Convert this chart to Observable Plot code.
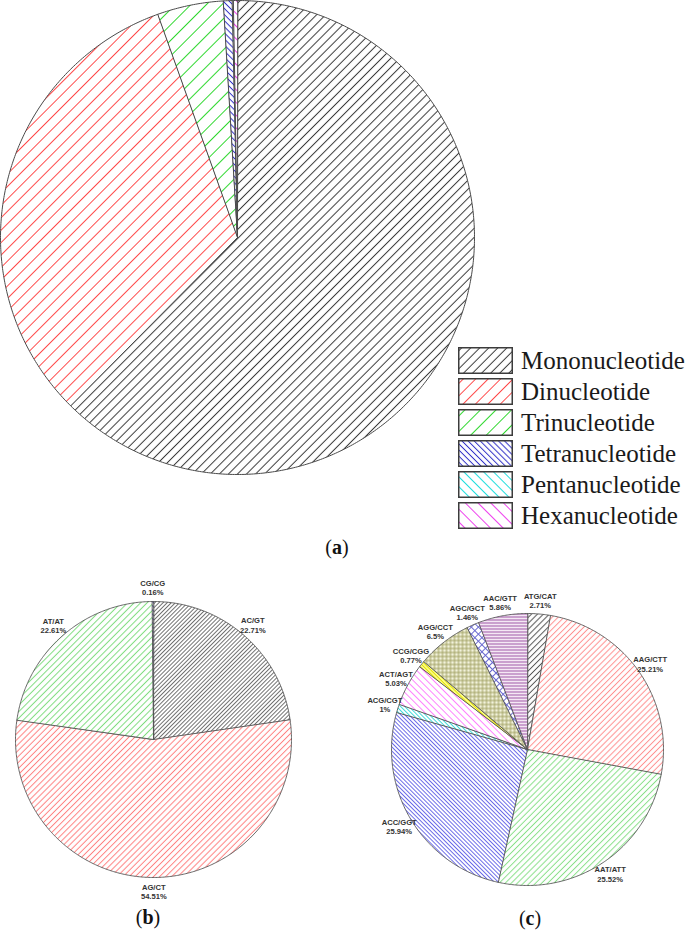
<!DOCTYPE html>
<html>
<head>
<meta charset="utf-8">
<script src="https://cdn.jsdelivr.net/npm/d3@7"></script>
<script src="https://cdn.jsdelivr.net/npm/@observablehq/plot@0.6"></script>
<style>
  body { margin: 0; background: #fff; }
  #page { position: relative; width: 685px; height: 936px; overflow: hidden; font-family: "Liberation Serif", "Times New Roman", serif; }
  .abs { position: absolute; }
  .cap { position: absolute; font-size: 20px; color: #111; white-space: nowrap; transform: translate(-50%, -50%); }
  .legrow { position: absolute; left: 0; height: 27px; display: flex; align-items: center; white-space: nowrap; }
  .legrow span { margin-left: 8px; font-size: 25px; color: #1a1a1a; line-height: 27px; font-family: "Liberation Serif", serif; }
</style>
</head>
<body>
<div id="page">
  <svg id="defs" width="0" height="0" style="position:absolute"></svg>
  <div id="pieA" class="abs" style="left:0;top:0;width:480px;height:480px"></div>
  <div id="pieB" class="abs" style="left:0;top:570px;width:320px;height:340px"></div>
  <div id="pieC" class="abs" style="left:340px;top:570px;width:345px;height:340px"></div>
  <div id="legend" class="abs" style="left:458px;top:347px;width:227px;height:190px"></div>
  <div class="cap" style="left:337px;top:547px">(<b>a</b>)</div>
  <div class="cap" style="left:148px;top:917px">(<b>b</b>)</div>
  <div class="cap" style="left:530px;top:918px">(<b>c</b>)</div>
</div>
<script>
// ---------- data ----------
const sizeClasses = ["Mononucleotide", "Dinucleotide", "Trinucleotide", "Tetranucleotide", "Pentanucleotide", "Hexanucleotide"];
const sizeShares = [62.4, 32.1, 4.5, 0.6, 0.08, 0.28];

const diMotifs = ["AC/GT", "AG/CT", "AT/AT", "CG/CG"];
const diShares = [22.71, 54.51, 22.61, 0.16];

const triMotifs = ["ATG/CAT", "AAG/CTT", "AAT/ATT", "ACC/GGT", "ACG/CGT", "ACT/AGT", "CCG/CGG", "AGG/CCT", "AGC/GCT", "AAC/GTT"];
const triShares = [2.71, 25.21, 25.52, 25.94, 1, 5.03, 0.77, 6.5, 1.46, 5.86];

// ---------- hatch styles ----------
const hatchA = [
  {color: "#3a3a3a", gap: 6.4, angle: 45},
  {color: "#ff4a4a", gap: 8.8, angle: 45},
  {color: "#30d830", gap: 11, angle: 45},
  {color: "#3030c8", gap: 4.3, angle: -45},
  {color: "#20dede", gap: 7, angle: -45},
  {color: "#ee40ee", gap: 9, angle: -45}
];
const hatchB = [
  {color: "#707070", gap: 2.9, angle: 45},
  {color: "#ff8080", gap: 4.3, angle: 45},
  {color: "#80dd80", gap: 4.6, angle: 45},
  {color: "#4040c0", gap: 3, angle: -45}
];
const hatchC = [
  {color: "#555555", gap: 4.2, angle: 45},
  {color: "#ff9090", gap: 4.2, angle: 45},
  {color: "#88e088", gap: 4.3, angle: 45},
  {color: "#6a6ae8", gap: 2.9, angle: -45},
  {color: "#40dada", gap: 2.9, angle: -45},
  {color: "#ff80ff", gap: 4.8, angle: -45},
  {color: "#e0e000", gap: 2.6, angle: -45, bg: "#ffff90"},
  {color: "#a0a060", gap: 4, angle: 0, bg: "#f2f2dc", kind: "grid"},
  {color: "#6a6ad0", gap: 5, angle: 45, kind: "grid"},
  {color: "#a058a8", gap: 3, angle: 90, bg: "#f4e8f4"}
];

// ---------- pattern defs ----------
const defs = d3.select("#defs").append("defs");
function addPatterns(prefix, styles) {
  styles.forEach((s, i) => {
    const g = s.gap;
    const p = defs.append("pattern")
      .attr("id", `${prefix}${i}`)
      .attr("patternUnits", "userSpaceOnUse")
      .attr("width", g).attr("height", g)
      .attr("patternTransform", `rotate(${s.angle})`);
    p.append("rect").attr("width", g).attr("height", g).attr("fill", s.bg || "#fff");
    p.append("line").attr("x1", g / 2).attr("y1", 0).attr("x2", g / 2).attr("y2", g)
      .attr("stroke", s.color).attr("stroke-width", 1);
    if (s.kind === "grid") {
      p.append("line").attr("x1", 0).attr("y1", g / 2).attr("x2", g).attr("y2", g / 2)
        .attr("stroke", s.color).attr("stroke-width", 1);
    }
  });
}
addPatterns("pa", hatchA);
addPatterns("pb", hatchB);
addPatterns("pc", hatchC);

// ---------- pie builder ----------
function pieChart({names, values, prefix, cx, cy, r, width, height, stroke, strokeWidth, labels}) {
  const arcs = d3.pie().sort(null).value(d => d)(values);
  const marks = arcs.map((a, i) => {
    const n = Math.max(2, Math.ceil((a.endAngle - a.startAngle) / 0.01));
    const pts = [{x: 0, y: 0}];
    for (let k = 0; k <= n; k++) {
      const t = a.startAngle + (a.endAngle - a.startAngle) * k / n;
      pts.push({x: Math.sin(t), y: Math.cos(t)});
    }
    return Plot.line(pts, {
      x: "x", y: "y", fill: `url(#${prefix}${i})`,
      stroke, strokeWidth, curve: "linear-closed", strokeLinejoin: "miter"
    });
  });
  if (labels) {
    const rows = arcs.map((a, i) => {
      const m = (a.startAngle + a.endAngle) / 2;
      return {x: 1.1 * Math.sin(m), y: 1.1 * Math.cos(m), t: `${names[i]}\n${values[i]}%`};
    });
    marks.push(Plot.text(rows, {
      x: "x", y: "y", text: "t", fontSize: 7.6, fontWeight: "bold",
      fontFamily: "Liberation Sans, Arial, sans-serif", lineHeight: 1.25, fill: "#333"
    }));
  }
  return Plot.plot({
    width, height, margin: 0,
    style: {background: "transparent", overflow: "visible"},
    x: {domain: [-1, 1], range: [cx - r, cx + r], axis: null},
    y: {domain: [-1, 1], range: [cy + r, cy - r], axis: null},
    marks
  });
}

document.getElementById("pieA").append(pieChart({
  names: sizeClasses, values: sizeShares, prefix: "pa",
  cx: 237, cy: 237, r: 237, width: 480, height: 480,
  stroke: "#4a4a4a", strokeWidth: 1, labels: false
}));
document.getElementById("pieB").append(pieChart({
  names: diMotifs, values: diShares, prefix: "pb",
  cx: 153, cy: 169, r: 138, width: 320, height: 340,
  stroke: "#555", strokeWidth: 0.9, labels: true
}));
document.getElementById("pieC").append(pieChart({
  names: triMotifs, values: triShares, prefix: "pc",
  cx: 187, cy: 179, r: 136, width: 345, height: 340,
  stroke: "#555", strokeWidth: 0.9, labels: true
}));

// ---------- legend ----------
const legend = d3.select("#legend");
sizeClasses.forEach((name, i) => {
  const row = legend.append("div").attr("class", "legrow").style("top", `${i * 31}px`);
  const sw = row.append("svg").attr("width", 55).attr("height", 27);
  sw.append("rect").attr("x", 0.75).attr("y", 0.75).attr("width", 53.5).attr("height", 25.5)
    .attr("fill", `url(#pa${i})`).attr("stroke", "#3c3c3c").attr("stroke-width", 1.5);
  row.append("span").text(name);
});
</script>
</body>
</html>
